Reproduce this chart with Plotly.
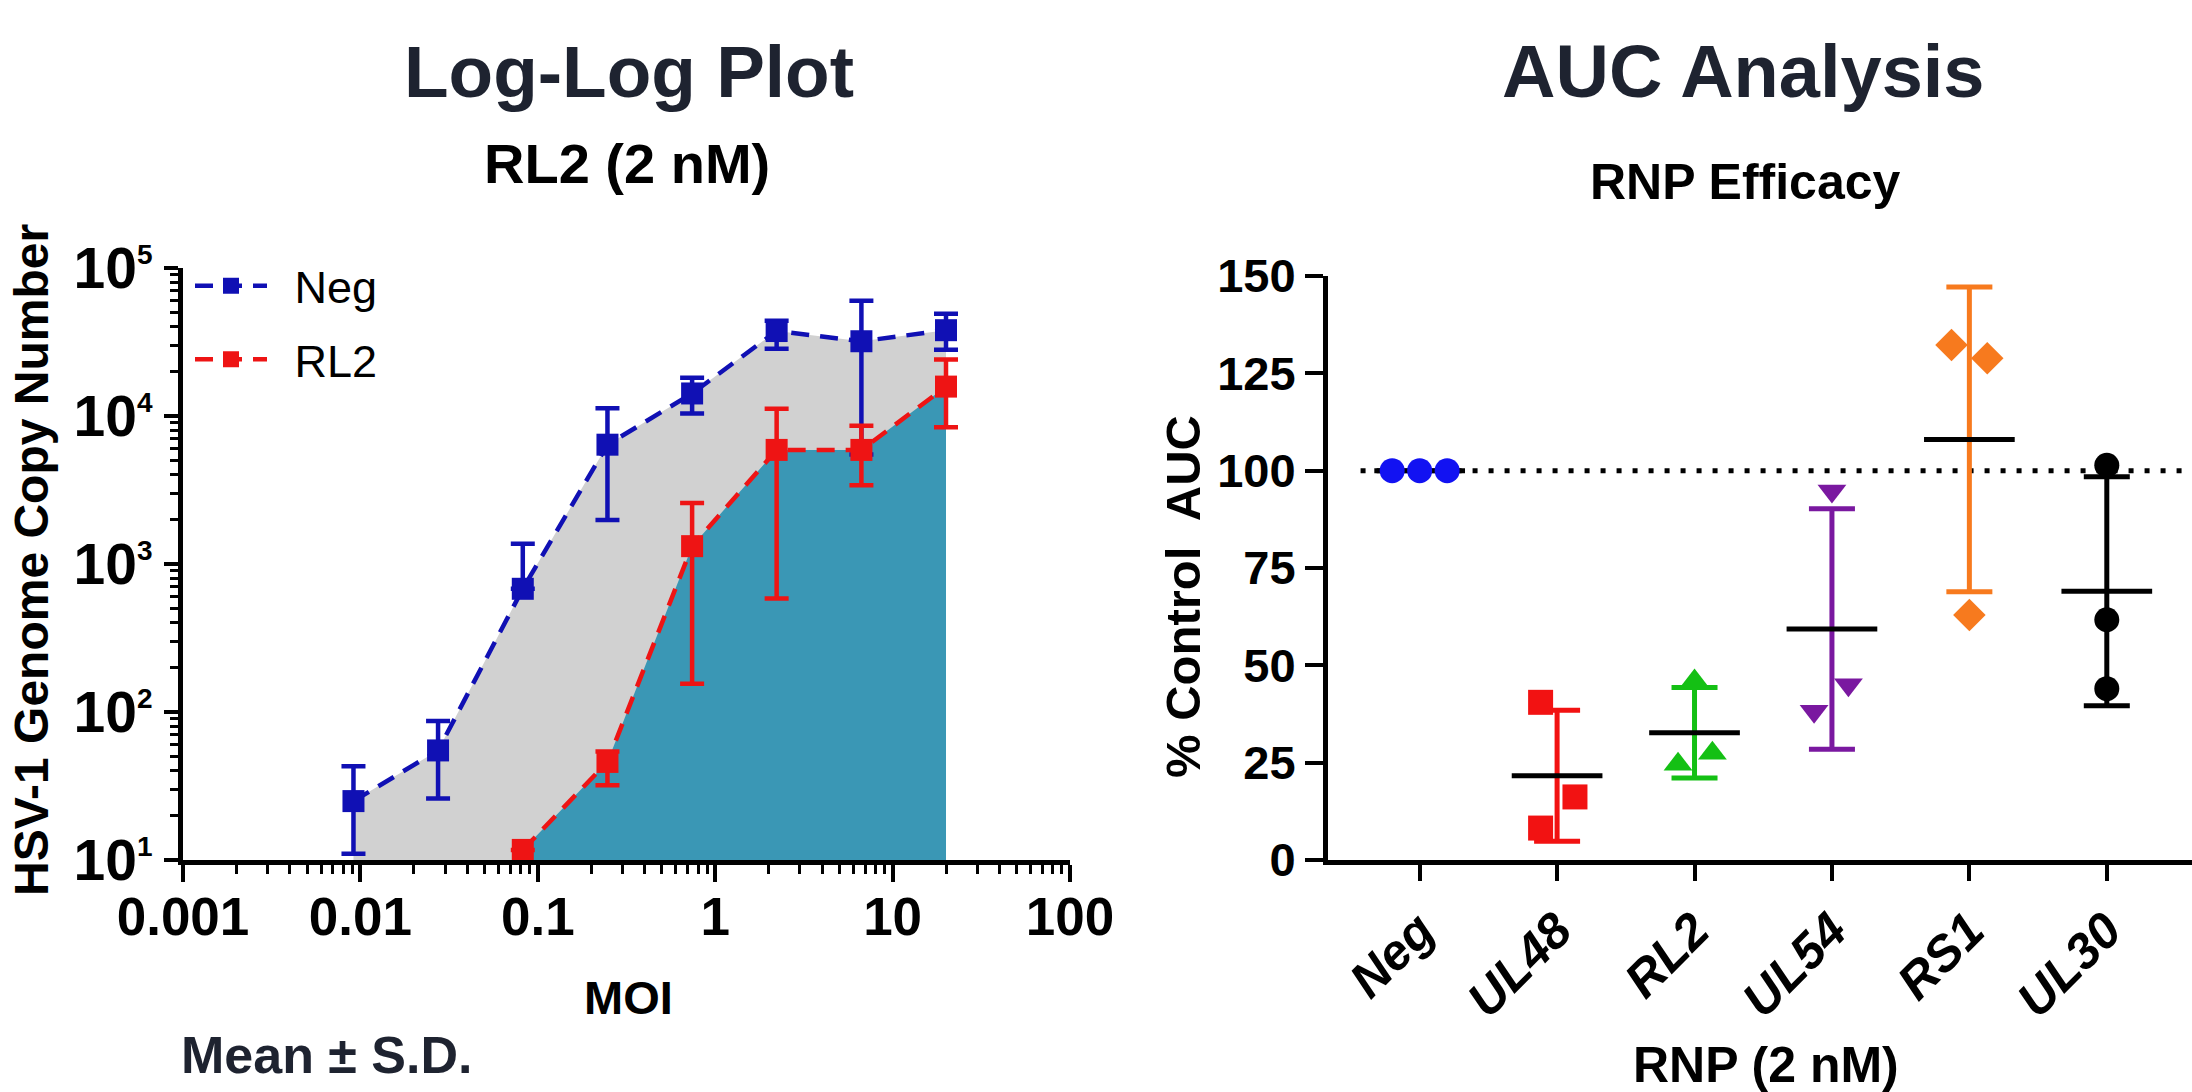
import plotly.graph_objects as go

# ---------------- data: left panel (Log-Log Plot) ----------------
neg_moi = [0.00914, 0.0274, 0.0823, 0.247, 0.741, 2.22, 6.67, 20]
neg_mean = [25, 55, 680, 6400, 14200, 37500, 32000, 38000]
neg_hi = [43, 87, 1370, 11300, 18100, 44000, 60000, 49000]
neg_lo = [11, 26, None, 1980, 10400, 28500, 5500, 28000]

rl2_moi = [0.0823, 0.247, 0.741, 2.22, 6.67, 20]
rl2_mean = [11.7, 46, 1320, 5900, 5900, 15800]
rl2_hi = [None, 54, 2580, 11200, 8600, 24100]
rl2_lo = [None, 32, 155, 585, 3400, 8400]

x_tick_vals = [0.001, 0.01, 0.1, 1, 10, 100]
x_tick_text = ["0.001", "0.01", "0.1", "1", "10", "100"]
y_tick_vals = [10, 100, 1000, 10000, 100000]
y_tick_text = ["10<sup><span style='font-size:28px'>%d</span></sup>" % e for e in [1, 2, 3, 4, 5]]
Y_BASE = 10  # bottom of the log axis

# ---------------- data: right panel (AUC Analysis) ----------------
groups = ["Neg", "UL48", "RL2", "UL54", "RS1", "UL30"]
auc_values = [
    [100, 100, 100],
    [40.5, 16.2, 8.2],
    [46.0, 27.4, 24.6],
    [94.8, 45.0, 38.2],
    [132.3, 128.9, 62.9],
    [101.4, 61.7, 44.0],
]
REF_LINE = 100

# ---------------- styles ----------------
jitter = [
    [-0.2, 0.0, 0.2],
    [-0.12, 0.13, -0.12],
    [0.0, 0.13, -0.12],
    [0.0, 0.12, -0.13],
    [-0.13, 0.13, 0.0],
    [0.0, 0.0, 0.0],
]
group_colors = ["#1212f2", "#f21212", "#14c014", "#7a18a0", "#f77a1e", "#000000"]
group_symbols = ["circle", "square", "triangle-up", "triangle-down", "diamond", "circle"]
NEG_C = "#1010b4"
RL2_C = "#ee1414"
GREY = "#d1d1d1"
TEAL = "#3a97b5"
FONT = "Liberation Sans, Arial, sans-serif"
TITLE_C = "#1e2330"
LEGEND_PAD = "\u2002"

fig = go.Figure()

# ----- left panel fills -----
fig.add_trace(go.Scatter(
    x=neg_moi + [neg_moi[-1], neg_moi[0]],
    y=neg_mean + [Y_BASE, Y_BASE],
    fill="toself", fillcolor=GREY, mode="none", showlegend=False,
    hoverinfo="skip", xaxis="x", yaxis="y"))
fig.add_trace(go.Scatter(
    x=rl2_moi + [rl2_moi[-1], rl2_moi[0]],
    y=rl2_mean + [Y_BASE, Y_BASE],
    fill="toself", fillcolor=TEAL, mode="none", showlegend=False,
    hoverinfo="skip", xaxis="x", yaxis="y"))


def err_parts(mean, hi, lo):
    up = [(h - m) if h is not None else 0 for m, h in zip(mean, hi)]
    dn = [(m - l) if l is not None else 0 for m, l in zip(mean, lo)]
    return up, dn


for name, xs, ms, hi, lo, col in [
    ("Neg", neg_moi, neg_mean, neg_hi, neg_lo, NEG_C),
    ("RL2", rl2_moi, rl2_mean, rl2_hi, rl2_lo, RL2_C),
]:
    up, dn = err_parts(ms, hi, lo)
    fig.add_trace(go.Scatter(
        x=xs, y=ms, name=LEGEND_PAD + name, legendgroup=name, mode="lines+markers",
        line=dict(color=col, width=4.5, dash="18px,11px"),
        marker=dict(symbol="square", size=22, color=col),
        error_y=dict(type="data", symmetric=False, array=up, arrayminus=dn,
                     color=col, thickness=4.5, width=12),
        xaxis="x", yaxis="y"))

# ----- right panel -----
fig.add_shape(type="line", xref="x2", yref="y2", x0=-0.43, x1=5.62,
              y0=REF_LINE, y1=REF_LINE,
              line=dict(color="black", width=5, dash="5px,11px"), layer="below")

for i, (g, vals) in enumerate(zip(groups, auc_values)):
    n = len(vals)
    mean = sum(vals) / n
    sd = (sum((v - mean) ** 2 for v in vals) / (n - 1)) ** 0.5
    col = group_colors[i]
    # error bar (mean ± SD)
    fig.add_trace(go.Scatter(
        x=[i], y=[mean], mode="markers", marker=dict(size=1, opacity=0),
        error_y=dict(type="data", array=[sd], color=col, thickness=5, width=23),
        showlegend=False, hoverinfo="skip", xaxis="x2", yaxis="y2"))
    # mean line
    fig.add_trace(go.Scatter(
        x=[i - 0.33, i + 0.33], y=[mean, mean], mode="lines",
        line=dict(color="black", width=5), showlegend=False,
        hoverinfo="skip", xaxis="x2", yaxis="y2"))
    # replicate points
    fig.add_trace(go.Scatter(
        x=[i + j for j in jitter[i]], y=vals, mode="markers", name=g,
        marker=dict(symbol=group_symbols[i], size=25, color=col),
        showlegend=False, xaxis="x2", yaxis="y2"))

W, H = 2192, 1092
Y_AX = 860
LEFT_X0, LEFT_X1, LEFT_TOP = 183, 1070, 268
RIGHT_X0, RIGHT_TOP = 1328, 276

axis_common = dict(showgrid=False, zeroline=False, showline=True, linecolor="black",
                   linewidth=5, ticks="outside", tickcolor="black", automargin=False)

fig.update_layout(
    width=W, height=H, margin=dict(l=0, r=0, t=0, b=0, autoexpand=False),
    paper_bgcolor="white", plot_bgcolor="white",
    font=dict(family=FONT, color="black"),
    showlegend=True,
    legend=dict(x=190 / W, y=1 - 250 / H, xanchor="left", yanchor="top",
                font=dict(family=FONT, size=45, color="black"),
                bgcolor="rgba(0,0,0,0)", itemwidth=72, tracegroupgap=12),
    xaxis=dict(**axis_common, type="log", range=[-3, 2],
               domain=[LEFT_X0 / W, LEFT_X1 / W], anchor="y",
               tickvals=x_tick_vals, ticktext=x_tick_text, ticklen=17, tickwidth=4,
               ticklabelstandoff=-11,
               tickfont=dict(family=FONT, size=53, weight="bold"),
               minor=dict(ticks="outside", ticklen=9, tickwidth=3, tickcolor="black",
                          dtick="D1", showgrid=False)),
    yaxis=dict(**axis_common, type="log", range=[1, 5],
               domain=[(H - Y_AX) / H, (H - LEFT_TOP) / H], anchor="x",
               tickvals=y_tick_vals, ticktext=y_tick_text, ticklen=14, tickwidth=4,
               tickfont=dict(family=FONT, size=57, weight="bold"),
               minor=dict(ticks="outside", ticklen=8, tickwidth=3, tickcolor="black",
                          dtick="D1", showgrid=False)),
    xaxis2=dict(**axis_common, range=[-0.667, 5.62],
                domain=[RIGHT_X0 / W, 1.0], anchor="y2",
                tickvals=list(range(len(groups))), ticktext=groups, tickangle=-45,
                ticklen=16, tickwidth=4,
                tickfont=dict(family=FONT, size=50, weight="bold", style="italic")),
    yaxis2=dict(**axis_common, range=[0, 150],
                domain=[(H - Y_AX) / H, (H - RIGHT_TOP) / H], anchor="x2",
                tickvals=[0, 25, 50, 75, 100, 125, 150], ticklen=18, tickwidth=4,
                tickfont=dict(family=FONT, size=47, weight="bold")),
)


def ann(text, x, y, size, color="black", angle=0, xanchor="center", weight="bold"):
    fig.add_annotation(text=text, x=x, y=y, xref="paper", yref="paper",
                       xanchor=xanchor, yanchor="middle", showarrow=False,
                       textangle=angle,
                       font=dict(family=FONT, size=size, color=color, weight=weight))


ann("Log-Log Plot", 629 / W, 1 - 72 / H, 73, TITLE_C)
ann("RL2 (2 nM)", 627 / W, 1 - 163 / H, 56)
ann("AUC Analysis", 1743 / W, 1 - 72 / H, 74, TITLE_C)
ann("RNP Efficacy", 1745 / W, 1 - 182 / H, 50)
ann("MOI", 628 / W, 1 - 997 / H, 47)
ann("Mean ± S.D.", 179 / W, 1 - 1055 / H, 52, TITLE_C, xanchor="left")
ann("RNP (2 nM)", 1766 / W, 1 - 1065 / H, 50)
ann("HSV-1 Genome Copy Number", 31 / W, 1 - 560 / H, 48, angle=-90)
ann("% Control\u00a0 AUC", 1183 / W, 1 - 597 / H, 49, angle=-90)

fig.write_html("out.html", config={"displayModeBar": False},
               post_script="document.body.style.margin='0px';")
